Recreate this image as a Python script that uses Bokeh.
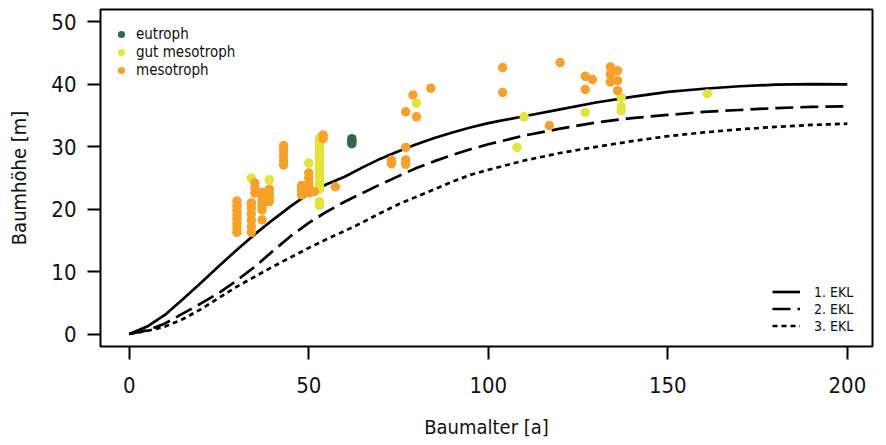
from math import pi
from bokeh.plotting import figure
from bokeh.models import Range1d, Legend, LegendItem, Label, FixedTicker
from bokeh.embed import file_html
from bokeh.resources import INLINE

FONT = "DejaVu Sans Condensed"

# --- Ertragsklassen (EKL) height curves ---
ekl_age = [0, 5, 10, 15, 20, 25, 30, 35, 40, 45, 50, 55, 60, 65, 70, 75, 80, 85, 90, 95, 100,
           110, 120, 130, 140, 150, 160, 170, 180, 190, 200]
ekl1 = [0, 1.2, 3.1, 5.6, 8.2, 10.9, 13.5, 16.0, 18.3, 20.5, 22.5, 24.0, 25.2, 26.7, 28.1, 29.3,
        30.4, 31.4, 32.3, 33.1, 33.8, 34.9, 36.0, 37.1, 38.0, 38.8, 39.3, 39.7, 39.95, 40.05, 40.0]
ekl2 = [0, 0.6, 1.7, 3.3, 4.9, 6.6, 8.6, 10.8, 13.3, 15.7, 17.8, 19.6, 21.2, 22.6, 24.0, 25.3,
        26.6, 27.7, 28.7, 29.6, 30.4, 31.8, 32.9, 33.9, 34.6, 35.1, 35.6, 35.9, 36.2, 36.4, 36.5]
ekl3 = [0, 0.5, 1.2, 2.4, 4.0, 5.8, 7.6, 9.2, 10.8, 12.3, 13.8, 15.2, 16.5, 17.9, 19.4, 20.8,
        22.0, 23.2, 24.4, 25.5, 26.3, 27.8, 29.0, 30.0, 30.9, 31.7, 32.3, 32.8, 33.2, 33.5, 33.7]
ekl_labels = ["1. EKL", "2. EKL", "3. EKL"]

# --- observed trees ---
eutroph_age = [62, 62, 62]
eutroph_h = [31.3, 30.9, 30.5]

gut_age = [34, 34, 39, 50,
           53, 53, 53, 53, 53, 53, 53, 53, 53, 53, 53, 53, 53, 53, 53, 53, 53,
           80, 108, 110, 127, 137, 137, 137, 161]
gut_h = [25.0, 21.0, 24.7, 27.4,
         31.4, 30.8, 30.2, 29.6, 29.0, 28.4, 27.8, 27.2, 26.6, 26.0, 25.4, 24.8, 24.2, 23.6, 23.2, 21.2, 20.6,
         37.0, 29.9, 34.8, 35.5, 37.9, 36.4, 35.8, 38.5]

meso_age = [30, 30, 30, 30, 30, 30, 30, 30,
            34, 34, 34, 34, 34, 34, 35, 35, 35,
            37, 37, 37, 37, 37, 37,
            39, 39, 39, 39,
            43, 43, 43, 43, 43,
            48, 48, 48,
            50, 50, 50, 50, 50, 51.5,
            54, 54, 57.4,
            73, 73, 77, 77, 77, 77, 79, 80, 84,
            104, 104, 117, 120, 127, 127, 129,
            134, 134, 134, 136, 136, 136]
meso_h = [16.3, 17.0, 17.7, 18.4, 19.1, 19.8, 20.5, 21.3,
          16.3, 17.2, 18.2, 19.2, 20.2, 21.0, 22.6, 23.4, 24.2,
          22.7, 22.0, 21.3, 20.6, 19.9, 18.3,
          23.2, 22.5, 21.8, 21.2,
          30.2, 29.4, 28.6, 27.8, 27.1,
          23.8, 23.0, 22.3,
          25.8, 25.0, 24.2, 23.4, 22.6, 22.8,
          31.9, 31.3, 23.6,
          27.9, 27.3, 27.9, 27.2, 29.9, 35.6, 38.3, 34.8, 39.4,
          42.7, 38.7, 33.4, 43.5, 41.3, 39.2, 40.8,
          42.8, 41.6, 40.4, 42.2, 40.6, 39.0]

groups = ["eutroph", "gut mesotroph", "mesotroph"]
colors = ["#2e6a46", "#e3e33a", "#f7a02a"]
x_ticks = [0, 50, 100, 150, 200]
y_ticks = [0, 10, 20, 30, 40, 50]

p = figure(width=886, height=445, x_range=Range1d(-8, 207), y_range=Range1d(-2, 52),
           output_backend="svg", toolbar_location=None,
           min_border_left=100, min_border_right=14, min_border_top=9, min_border_bottom=99)
p.xgrid.visible = False
p.ygrid.visible = False
p.outline_line_color = "black"
p.outline_line_width = 2
p.background_fill_color = "white"
p.border_fill_color = "white"

p.xaxis.ticker = FixedTicker(ticks=x_ticks)
p.yaxis.ticker = FixedTicker(ticks=y_ticks)
for ax in (p.xaxis[0], p.yaxis[0]):
    ax.axis_line_color = None
    ax.major_tick_line_color = "black"
    ax.major_tick_line_width = 2
    ax.major_tick_out = 13
    ax.major_tick_in = 0
    ax.minor_tick_line_color = None
    ax.major_label_text_font = FONT
    ax.major_label_text_font_size = "22px"
    ax.major_label_text_color = "#111111"
    ax.axis_label_text_font = FONT
    ax.axis_label_text_font_size = "20px"
    ax.axis_label_text_font_style = "normal"
    ax.axis_label_text_color = "#111111"
p.xaxis.axis_label = "Baumalter [a]"
p.yaxis.axis_label = "Baumhöhe [m]"
p.xaxis.major_label_standoff = 17
p.yaxis.major_label_standoff = 11
p.xaxis.axis_label_standoff = 19
p.yaxis.axis_label_standoff = 17

# curves
l1 = p.line(ekl_age, ekl1, line_color="black", line_width=2.7)
l2 = p.line(ekl_age, ekl2, line_color="black", line_width=2.7, line_dash="18 7")
l3 = p.line(ekl_age, ekl3, line_color="black", line_width=2.7, line_dash="5 4")

# points
r_gut = p.scatter(gut_age, gut_h, size=9.5, fill_color=colors[1], line_color=None)
r_meso = p.scatter(meso_age, meso_h, size=9.5, fill_color=colors[2], line_color=None)
r_eu = p.scatter(eutroph_age, eutroph_h, size=9.5, fill_color=colors[0], line_color=None)

leg1 = Legend(items=[LegendItem(label=groups[0], renderers=[r_eu]),
                     LegendItem(label=groups[1], renderers=[r_gut]),
                     LegendItem(label=groups[2], renderers=[r_meso])],
              location=(11, 267), orientation="vertical",
              border_line_color=None, background_fill_alpha=0, padding=0, margin=0,
              spacing=0, glyph_width=20, glyph_height=18, label_height=18,
              label_standoff=5, label_text_font=FONT, label_text_font_size="15px",
              label_text_color="#111111")
leg2 = Legend(items=[LegendItem(label=ekl_labels[0], renderers=[l1]),
                     LegendItem(label=ekl_labels[1], renderers=[l2]),
                     LegendItem(label=ekl_labels[2], renderers=[l3])],
              location=(672, 12), orientation="vertical",
              border_line_color=None, background_fill_alpha=0, padding=0, margin=0,
              spacing=0, glyph_width=28, glyph_height=17, label_height=17,
              label_standoff=14, label_text_font=FONT, label_text_font_size="14px",
              label_text_color="#111111")
p.add_layout(leg1)
p.add_layout(leg2)

credit = Label(x=208.9, y=7.2, text="Grafik: A. Hardtke", angle=pi / 2,
               text_font="Liberation Serif", text_font_size="10px",
               text_align="center", text_baseline="middle", text_color="#222222")
p.add_layout(credit)

open("out.html", "w").write(file_html(p, INLINE))
